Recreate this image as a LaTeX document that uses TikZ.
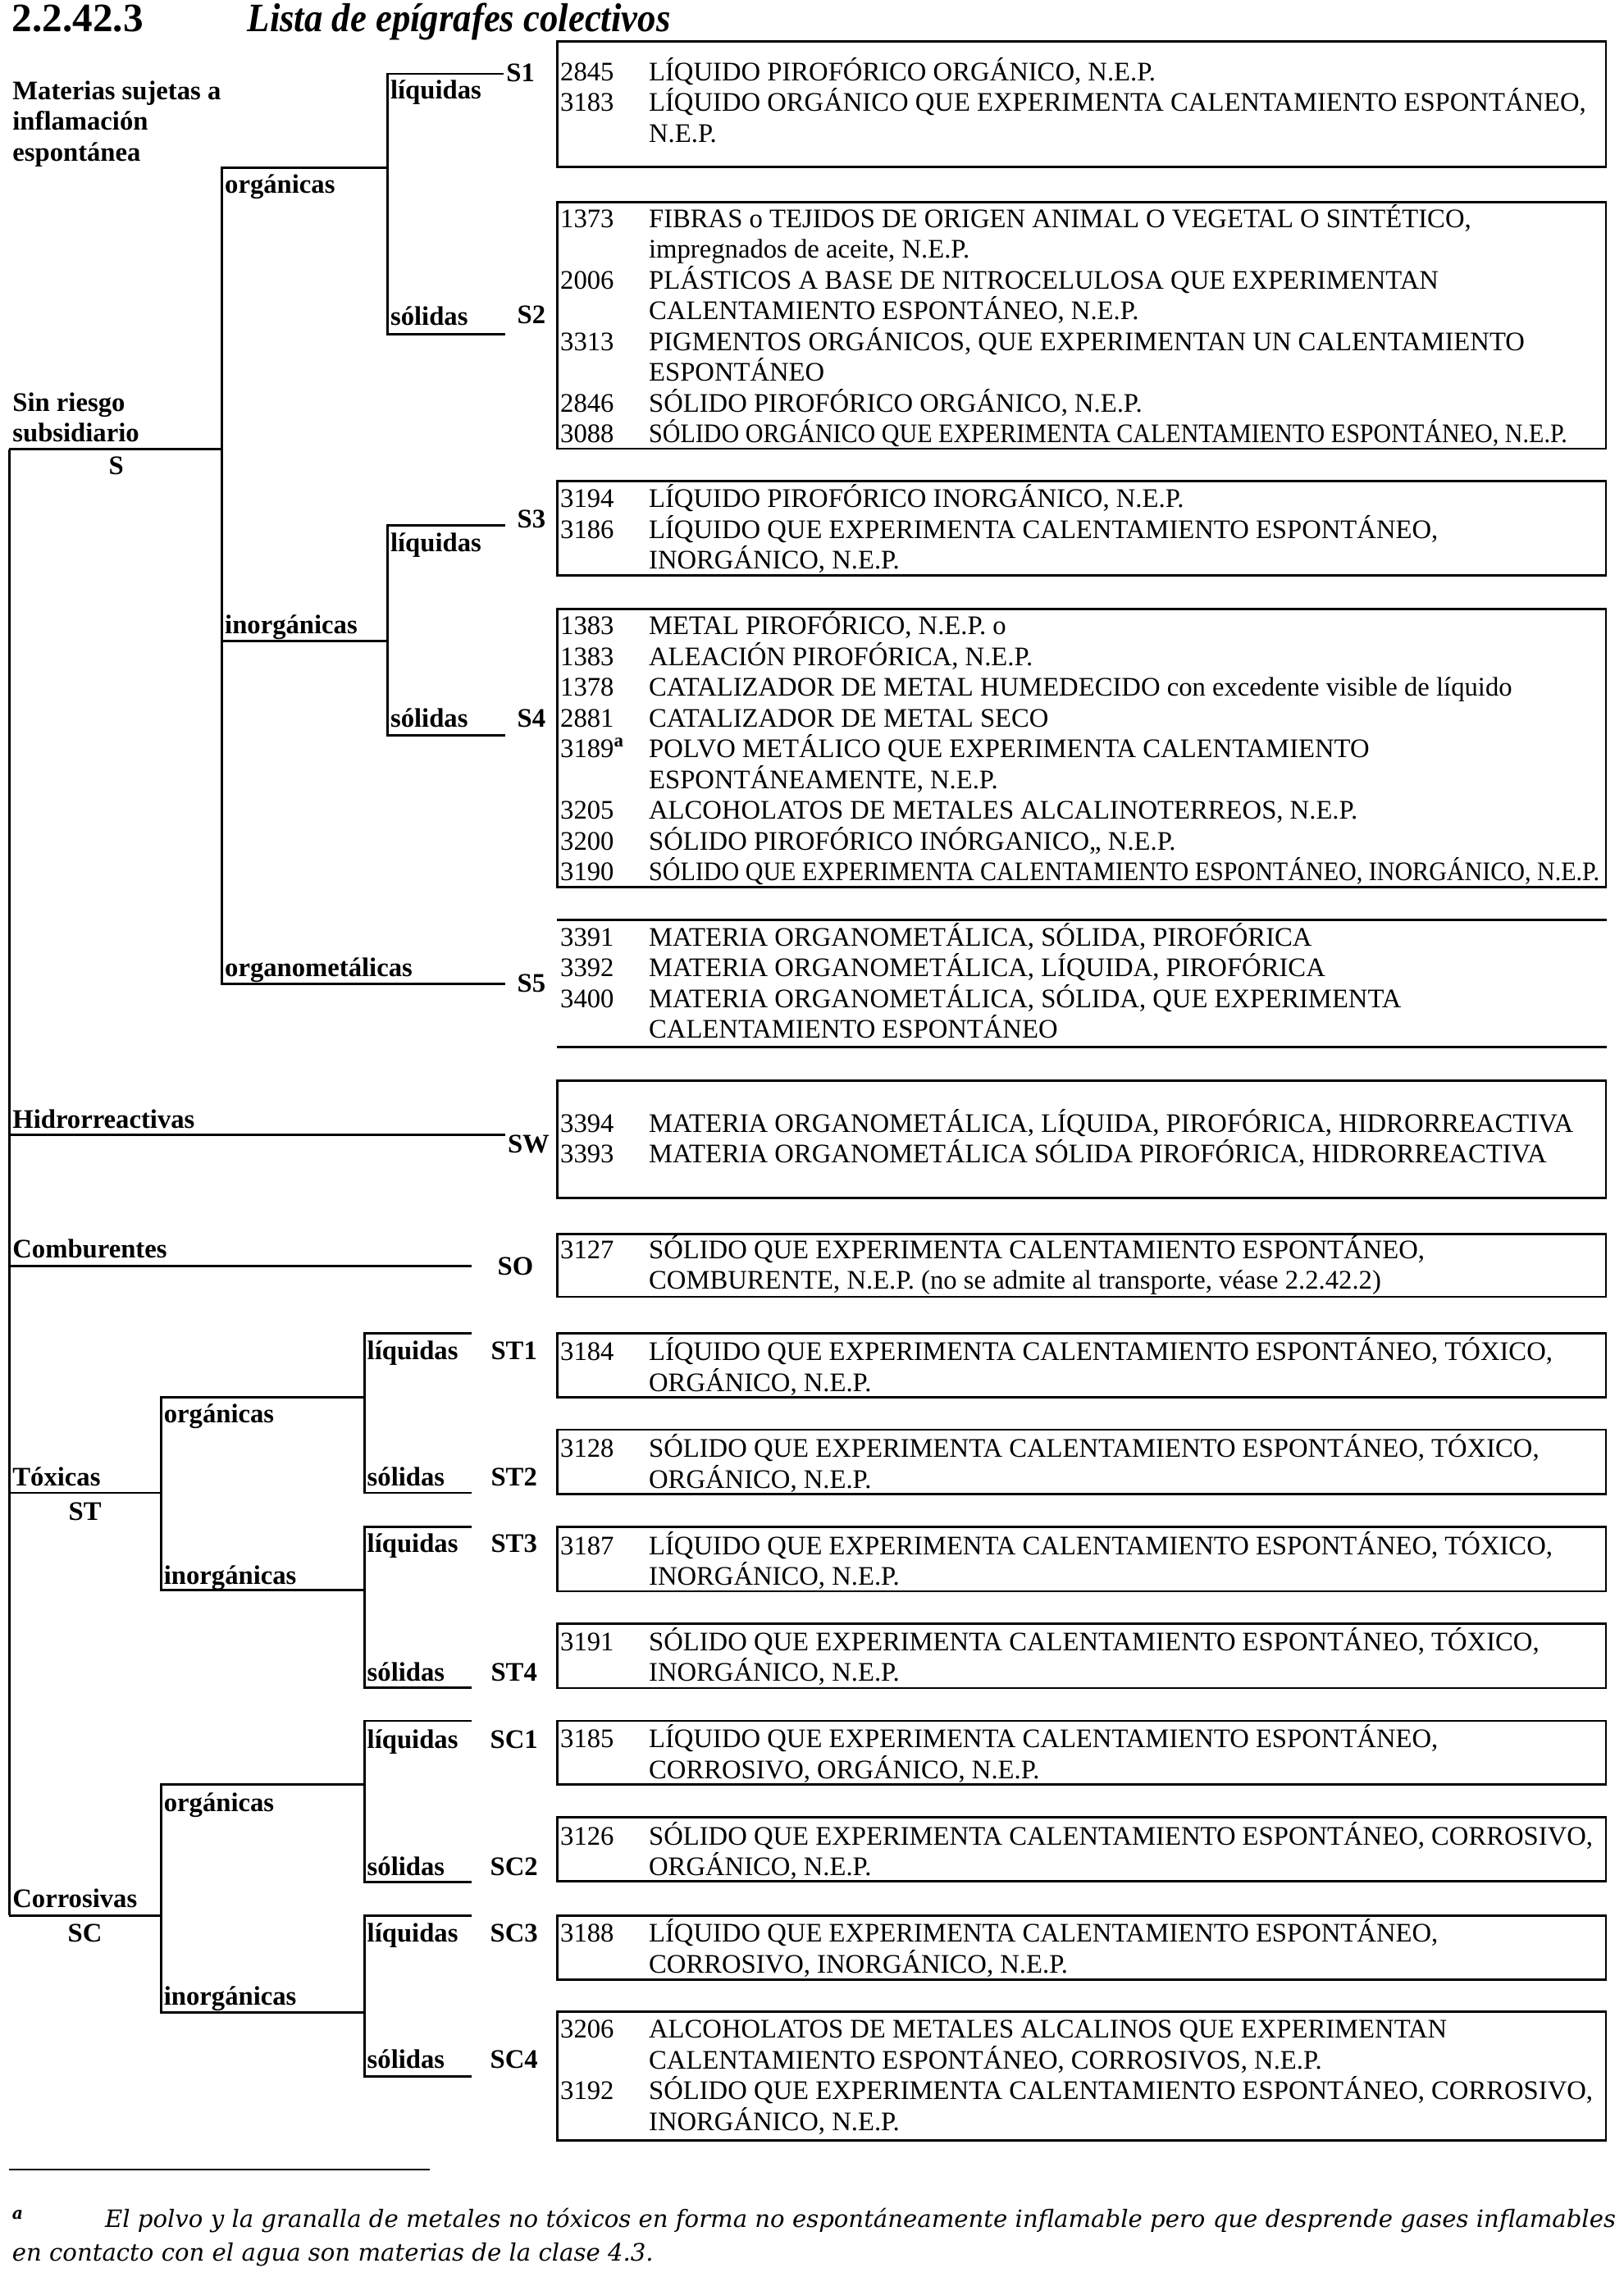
\documentclass[tikz,border=0pt]{standalone}
\usepackage{fontspec}
\setmainfont{Liberation Serif}
\newfontfamily\notefont{DejaVu Serif}
\usepackage{graphicx}
\usetikzlibrary{positioning, fit}

\newcommand{\bodysize}{\fontsize{9.3pt}{10.68pt}\selectfont
  \setbox\strutbox\hbox{\vrule height 8.62pt depth 2.06pt width 0pt}}
\newcommand{\squeeze}[1]{\scalebox{0.92}[1]{#1}}
\newenvironment{epis}{\begin{tabular}[t]{@{}p{1.08cm}@{}l@{}}}{\end{tabular}}

\begin{document}
\begin{tikzpicture}[
    x=0.01771cm, y=-0.01771cm,
    rule/.style={line width=0.8pt},
    epibox/.style={draw, line width=0.8pt, inner sep=0pt},
    rows/.style={anchor=base west, inner sep=0pt, font=\bodysize},
    lbl/.style={anchor=base west, inner sep=0pt, align=left, font=\bodysize\bfseries},
    code/.style={anchor=base, inner sep=0pt, font=\bodysize\bfseries}
]
\fill[white] (0,0) rectangle (1118,1568);
\useasboundingbox (0,0) rectangle (1118,1568);

% Title
\node[anchor=base west, inner sep=0pt, font=\fontsize{14pt}{16pt}\selectfont\bfseries] (num) at (8,21.6) {2.2.42.3};
\node[anchor=base west, inner sep=0pt, font=\fontsize{14pt}{16pt}\selectfont\bfseries\itshape] (title) at (170,21.6) {\scalebox{0.91}[1]{Lista de epígrafes colectivos}};

% Tree: sin riesgo subsidiario
\coordinate (s-in) at (6.3,309.4);
\coordinate (s-fork) at (153,309.4);
\coordinate (s-inorg) at (153,441.6);
\coordinate (sorg-fork) at (267,115.7);
\coordinate (sinorg-fork) at (267,441.6);
\coordinate (s1-end) at (347,50.8);
\coordinate (s2-end) at (348,230);
\coordinate (s3-end) at (348,362);
\coordinate (s4-end) at (348,506.6);
\coordinate (s5-end) at (348,677.4);

\draw[rule] (s1-end) -| (sorg-fork) |- (s2-end);
\draw[rule] (s3-end) -| (sinorg-fork) |- (s4-end);
\draw[rule] (sorg-fork) -| (s-fork) |- (s5-end);
\draw[rule] (s-inorg) -- (sinorg-fork);
\draw[rule] (s-in) -- (s-fork);

% Tree: other subsidiary risks
\coordinate (h-in) at (6.3,781.6);
\coordinate (sw-end) at (348,781.6);
\coordinate (o-in) at (6.3,872);
\coordinate (so-end) at (325,872);
\coordinate (t-in) at (6.3,1028);
\coordinate (t-fork) at (111,1028);
\coordinate (torg-fork) at (251,962);
\coordinate (tinorg-fork) at (251,1095);
\coordinate (st1-end) at (325,918);
\coordinate (st2-end) at (325,1028);
\coordinate (st3-end) at (325,1051.5);
\coordinate (st4-end) at (325,1162);
\coordinate (c-in) at (6.3,1319);
\coordinate (c-fork) at (111,1319);
\coordinate (corg-fork) at (251,1229);
\coordinate (cinorg-fork) at (251,1385.7);
\coordinate (sc1-end) at (325,1185);
\coordinate (sc2-end) at (325,1296);
\coordinate (sc3-end) at (325,1319);
\coordinate (sc4-end) at (325,1429.7);

\draw[rule] (s-in) -- (c-in);
\draw[rule] (h-in) -- (sw-end);
\draw[rule] (o-in) -- (so-end);
\draw[rule] (st1-end) -| (torg-fork) |- (st2-end);
\draw[rule] (st3-end) -| (tinorg-fork) |- (st4-end);
\draw[rule] (torg-fork) -| (t-fork) |- (tinorg-fork);
\draw[rule] (t-in) -- (t-fork);
\draw[rule] (sc1-end) -| (corg-fork) |- (sc2-end);
\draw[rule] (sc3-end) -| (cinorg-fork) |- (sc4-end);
\draw[rule] (corg-fork) -| (c-fork) |- (cinorg-fork);
\draw[rule] (c-in) -- (c-fork);

% Tree labels (multi-line ones sit on their last line)
\node[lbl] (lbl-mat) at (8.3,110.9) {Materias sujetas a\\inflamación\\espontánea};
\node[lbl] (lbl-sin) at (8.3,304.2) {Sin riesgo\\subsidiario};
\node[code] (code-s) at (80,326.7) {S};
\node[lbl] (lbl-sorg) at (154.5,133) {orgánicas};
\node[lbl] (lbl-sliq1) at (268.5,68.2) {líquidas};
\node[lbl] (lbl-ssol1) at (268.5,224) {sólidas};
\node[lbl] (lbl-sinorg) at (154.5,436.5) {inorgánicas};
\node[lbl] (lbl-sliq2) at (268.5,379.9) {líquidas};
\node[lbl] (lbl-ssol2) at (268.5,500.9) {sólidas};
\node[lbl] (lbl-orgmet) at (154.5,672.3) {organometálicas};
\node[lbl] (lbl-hid) at (8.3,776.9) {Hidrorreactivas};
\node[lbl] (lbl-com) at (8.3,866.4) {Comburentes};
\node[lbl] (lbl-tox) at (8.3,1023.4) {Tóxicas};
\node[code] (code-st) at (58.5,1046.7) {ST};
\node[lbl] (lbl-torg) at (112.5,979.9) {orgánicas};
\node[lbl] (lbl-tinorg) at (112.5,1091) {inorgánicas};
\node[lbl] (lbl-tliq1) at (252.5,936) {líquidas};
\node[lbl] (lbl-tsol1) at (252.5,1023.4) {sólidas};
\node[lbl] (lbl-tliq2) at (252.5,1068.8) {líquidas};
\node[lbl] (lbl-tsol2) at (252.5,1157.5) {sólidas};
\node[lbl] (lbl-cor) at (8.3,1313.8) {Corrosivas};
\node[code] (code-sc) at (58.5,1337) {SC};
\node[lbl] (lbl-corg) at (112.5,1247.4) {orgánicas};
\node[lbl] (lbl-cinorg) at (112.5,1380.7) {inorgánicas};
\node[lbl] (lbl-cliq1) at (252.5,1203.7) {líquidas};
\node[lbl] (lbl-csol1) at (252.5,1291.4) {sólidas};
\node[lbl] (lbl-cliq2) at (252.5,1337) {líquidas};
\node[lbl] (lbl-csol2) at (252.5,1424.4) {sólidas};

% Codes
\node[code] (code-s1) at (358.5,56.2) {S1};
\node[code] (code-s2) at (366,222.8) {S2};
\node[code] (code-s3) at (366,363.5) {S3};
\node[code] (code-s4) at (366,500.9) {S4};
\node[code] (code-s5) at (366,683.1) {S5};
\node[code] (code-sw) at (364,793.6) {SW};
\node[code] (code-so) at (355,877.8) {SO};
\node[code] (code-st1) at (354,936) {ST1};
\node[code] (code-st2) at (354,1023.4) {ST2};
\node[code] (code-st3) at (354,1068.8) {ST3};
\node[code] (code-st4) at (354,1157.5) {ST4};
\node[code] (code-sc1) at (354,1203.7) {SC1};
\node[code] (code-sc2) at (354,1291.4) {SC2};
\node[code] (code-sc3) at (354,1337) {SC3};
\node[code] (code-sc4) at (354,1424.4) {SC4};

% Boxes
\node[epibox, fit={(384,28.5) (1106,115)}] (box-s1) {};
\node[rows] (rows-s1) at (385.5,55.5) {\begin{epis}
2845 & LÍQUIDO PIROFÓRICO ORGÁNICO, N.E.P.\\
3183 & LÍQUIDO ORGÁNICO QUE EXPERIMENTA CALENTAMIENTO ESPONTÁNEO,\\
     & N.E.P.
\end{epis}};

\node[epibox, fit={(384,139) (1106,309)}] (box-s2) {};
\node[rows] (rows-s2) at (385.5,156.5) {\begin{epis}
1373 & FIBRAS o TEJIDOS DE ORIGEN ANIMAL O VEGETAL O SINTÉTICO,\\
     & impregnados de aceite, N.E.P.\\
2006 & PLÁSTICOS A BASE DE NITROCELULOSA QUE EXPERIMENTAN\\
     & CALENTAMIENTO ESPONTÁNEO, N.E.P.\\
3313 & PIGMENTOS ORGÁNICOS, QUE EXPERIMENTAN UN CALENTAMIENTO\\
     & ESPONTÁNEO\\
2846 & SÓLIDO PIROFÓRICO ORGÁNICO, N.E.P.\\
3088 & \squeeze{SÓLIDO ORGÁNICO QUE EXPERIMENTA CALENTAMIENTO ESPONTÁNEO, N.E.P.}
\end{epis}};

\node[epibox, fit={(384,331.4) (1106,396)}] (box-s3) {};
\node[rows] (rows-s3) at (385.5,349.5) {\begin{epis}
3194 & LÍQUIDO PIROFÓRICO INORGÁNICO, N.E.P.\\
3186 & LÍQUIDO QUE EXPERIMENTA CALENTAMIENTO ESPONTÁNEO,\\
     & INORGÁNICO, N.E.P.
\end{epis}};

\node[epibox, fit={(384,419.5) (1106,611)}] (box-s4) {};
\node[rows] (rows-s4) at (385.5,437) {\begin{epis}
1383 & METAL PIROFÓRICO, N.E.P. o\\
1383 & ALEACIÓN PIROFÓRICA, N.E.P.\\
1378 & CATALIZADOR DE METAL HUMEDECIDO con excedente visible de líquido\\
2881 & CATALIZADOR DE METAL SECO\\
3189\textsuperscript{\bfseries a} & POLVO METÁLICO QUE EXPERIMENTA CALENTAMIENTO\\
     & ESPONTÁNEAMENTE, N.E.P.\\
3205 & ALCOHOLATOS DE METALES ALCALINOTERREOS, N.E.P.\\
3200 & SÓLIDO PIROFÓRICO INÓRGANICO,, N.E.P.\\
3190 & \squeeze{SÓLIDO QUE EXPERIMENTA CALENTAMIENTO ESPONTÁNEO, INORGÁNICO, N.E.P.}
\end{epis}};

\node[inner sep=0pt, fit={(384,634) (1106,720.5)}] (box-s5) {};
\draw[rule] (box-s5.north west) -- (box-s5.north east);
\draw[rule] (box-s5.south west) -- (box-s5.south east);
\node[rows] (rows-s5) at (385.5,651.5) {\begin{epis}
3391 & MATERIA ORGANOMETÁLICA, SÓLIDA, PIROFÓRICA\\
3392 & MATERIA ORGANOMETÁLICA, LÍQUIDA, PIROFÓRICA\\
3400 & MATERIA ORGANOMETÁLICA, SÓLIDA, QUE EXPERIMENTA\\
     & CALENTAMIENTO ESPONTÁNEO
\end{epis}};

\node[epibox, fit={(384,744) (1106,825)}] (box-sw) {};
\node[rows] (rows-sw) at (385.5,779.5) {\begin{epis}
3394 & MATERIA ORGANOMETÁLICA, LÍQUIDA, PIROFÓRICA, HIDRORREACTIVA\\
3393 & MATERIA ORGANOMETÁLICA SÓLIDA PIROFÓRICA, HIDRORREACTIVA
\end{epis}};

\node[epibox, fit={(384,850) (1106,893)}] (box-so) {};
\node[rows] (rows-so) at (385.5,866.5) {\begin{epis}
3127 & SÓLIDO QUE EXPERIMENTA CALENTAMIENTO ESPONTÁNEO,\\
     & COMBURENTE, N.E.P. (no se admite al transporte, véase 2.2.42.2)
\end{epis}};

\node[epibox, fit={(384,918) (1106,962)}] (box-st1) {};
\node[rows] (rows-st1) at (385.5,937) {\begin{epis}
3184 & LÍQUIDO QUE EXPERIMENTA CALENTAMIENTO ESPONTÁNEO, TÓXICO,\\
     & ORGÁNICO, N.E.P.
\end{epis}};

\node[epibox, fit={(384,984.5) (1106,1029)}] (box-st2) {};
\node[rows] (rows-st2) at (385.5,1003.5) {\begin{epis}
3128 & SÓLIDO QUE EXPERIMENTA CALENTAMIENTO ESPONTÁNEO, TÓXICO,\\
     & ORGÁNICO, N.E.P.
\end{epis}};

\node[epibox, fit={(384,1051.4) (1106,1095.8)}] (box-st3) {};
\node[rows] (rows-st3) at (385.5,1070.5) {\begin{epis}
3187 & LÍQUIDO QUE EXPERIMENTA CALENTAMIENTO ESPONTÁNEO, TÓXICO,\\
     & INORGÁNICO, N.E.P.
\end{epis}};

\node[epibox, fit={(384,1118) (1106,1162.4)}] (box-st4) {};
\node[rows] (rows-st4) at (385.5,1136.5) {\begin{epis}
3191 & SÓLIDO QUE EXPERIMENTA CALENTAMIENTO ESPONTÁNEO, TÓXICO,\\
     & INORGÁNICO, N.E.P.
\end{epis}};

\node[epibox, fit={(384,1185) (1106,1229)}] (box-sc1) {};
\node[rows] (rows-sc1) at (385.5,1203.5) {\begin{epis}
3185 & LÍQUIDO QUE EXPERIMENTA CALENTAMIENTO ESPONTÁNEO,\\
     & CORROSIVO, ORGÁNICO, N.E.P.
\end{epis}};

\node[epibox, fit={(384,1251.3) (1106,1295.5)}] (box-sc2) {};
\node[rows] (rows-sc2) at (385.5,1270.5) {\begin{epis}
3126 & SÓLIDO QUE EXPERIMENTA CALENTAMIENTO ESPONTÁNEO, CORROSIVO,\\
     & ORGÁNICO, N.E.P.
\end{epis}};

\node[epibox, fit={(384,1319) (1106,1363)}] (box-sc3) {};
\node[rows] (rows-sc3) at (385.5,1337.5) {\begin{epis}
3188 & LÍQUIDO QUE EXPERIMENTA CALENTAMIENTO ESPONTÁNEO,\\
     & CORROSIVO, INORGÁNICO, N.E.P.
\end{epis}};

\node[epibox, fit={(384,1385.4) (1106,1474)}] (box-sc4) {};
\node[rows] (rows-sc4) at (385.5,1403.5) {\begin{epis}
3206 & ALCOHOLATOS DE METALES ALCALINOS QUE EXPERIMENTAN\\
     & CALENTAMIENTO ESPONTÁNEO, CORROSIVOS, N.E.P.\\
3192 & SÓLIDO QUE EXPERIMENTA CALENTAMIENTO ESPONTÁNEO, CORROSIVO,\\
     & INORGÁNICO, N.E.P.
\end{epis}};

% Footnote
\coordinate (fn-a) at (6,1494);
\coordinate (fn-b) at (296,1494);
\draw[rule] (fn-a) -- (fn-b);
\node[anchor=base west, inner sep=0pt, align=left, font=\notefont\itshape\fontsize{8.3pt}{11.6pt}\selectfont] (note) at (8,1557) {\makebox[1.133cm][l]{\textsuperscript{\bfseries a}}El polvo y la granalla de metales no tóxicos en forma no espontáneamente inflamable pero que desprende gases inflamables\\en contacto con el agua son materias de la clase 4.3.};

\end{tikzpicture}
\end{document}
